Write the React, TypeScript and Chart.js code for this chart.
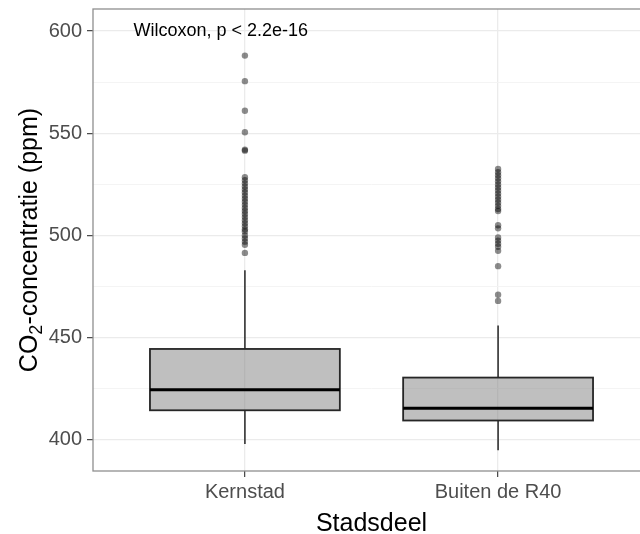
import { useEffect, useRef } from 'react';
import { Chart, registerables } from 'chart.js';

Chart.register(...registerables);

// CO2 concentration per district (boxplot summary, ppm)
const categories = ['Kernstad', 'Buiten de R40'];
const whiskerLow = [398, 395];
const q1 = [414.5, 409.5];
const median = [424.5, 415.5];
const q3 = [444.5, 430.5];
const whiskerHigh = [483, 456];

const outliersKernstad = [
  588, 575.5, 561, 550.5, 542, 541.5,
  528.5, 527, 525.5, 524, 522.5, 521, 519.5, 518, 516.5, 515, 513.5, 512,
  510.5, 509, 507.5, 506, 504.5, 503, 502,
  500, 498.5, 497, 495.5, 491.5,
];
const outliersBuiten = [
  532.5, 531, 529.5, 528, 526.5, 525, 523.5, 522, 520.5, 519, 517.5, 516,
  514.5, 513, 512,
  505, 503.5,
  499, 497.5, 496, 494.5, 492.5,
  485, 471, 468,
];

const yMajorTicks = [400, 450, 500, 550, 600];
const yMinorTicks = [425, 475, 525, 575];
const yMin = 384.8;
const yMax = 610.8;

const testLabel = 'Wilcoxon, p < 2.2e-16';
const testLabelX = 0.56;
const testLabelY = 600;
const xTitle = 'Stadsdeel';
const yTitleParts = ['CO', '2', '-concentratie (ppm)'];

const FONT = "'Liberation Sans', Arial, Helvetica, sans-serif";

const boxPlugin = {
  id: 'boxes',
  beforeDatasetsDraw(chart: any) {
    const { ctx, scales } = chart;
    const x = scales.x;
    const y = scales.y;
    categories.forEach((_, i) => {
      const cx = x.getPixelForValue(i + 1);
      const half = x.getPixelForValue(i + 1 + 0.375) - cx;
      const yq1 = y.getPixelForValue(q1[i]);
      const yq3 = y.getPixelForValue(q3[i]);
      const ymed = y.getPixelForValue(median[i]);
      const ylo = y.getPixelForValue(whiskerLow[i]);
      const yhi = y.getPixelForValue(whiskerHigh[i]);
      ctx.save();
      // whiskers
      ctx.strokeStyle = '#333333';
      ctx.lineWidth = 1.6;
      ctx.beginPath();
      ctx.moveTo(cx, yq3);
      ctx.lineTo(cx, yhi);
      ctx.moveTo(cx, yq1);
      ctx.lineTo(cx, ylo);
      ctx.stroke();
      // box
      ctx.fillStyle = 'rgba(128,128,128,0.5)';
      ctx.fillRect(cx - half, yq3, 2 * half, yq1 - yq3);
      ctx.strokeStyle = '#262626';
      ctx.lineWidth = 1.8;
      ctx.strokeRect(cx - half, yq3, 2 * half, yq1 - yq3);
      // median
      ctx.strokeStyle = '#000000';
      ctx.lineWidth = 3;
      ctx.beginPath();
      ctx.moveTo(cx - half, ymed);
      ctx.lineTo(cx + half, ymed);
      ctx.stroke();
      ctx.restore();
    });
  },
  afterDraw(chart: any) {
    const { ctx, chartArea, scales } = chart;
    const x = scales.x;
    const y = scales.y;
    ctx.save();
    // panel border
    ctx.strokeStyle = '#8f8f8f';
    ctx.lineWidth = 1.3;
    ctx.strokeRect(chartArea.left, chartArea.top, chartArea.right - chartArea.left, chartArea.bottom - chartArea.top);

    // test annotation
    ctx.fillStyle = '#000000';
    ctx.font = `18px ${FONT}`;
    ctx.textAlign = 'left';
    ctx.textBaseline = 'middle';
    ctx.fillText(testLabel, x.getPixelForValue(testLabelX), y.getPixelForValue(testLabelY));

    // x title
    ctx.font = `25px ${FONT}`;
    ctx.textAlign = 'center';
    ctx.textBaseline = 'alphabetic';
    ctx.fillText(xTitle, (chartArea.left + chartArea.right) / 2, 531);

    // y title with subscript
    const mainFont = `25px ${FONT}`;
    const subFont = `18px ${FONT}`;
    ctx.font = mainFont;
    const w0 = ctx.measureText(yTitleParts[0]).width;
    const w2 = ctx.measureText(yTitleParts[2]).width;
    ctx.font = subFont;
    const w1 = ctx.measureText(yTitleParts[1]).width;
    const total = w0 + w1 + w2;
    const cy = (chartArea.top + chartArea.bottom) / 2;
    ctx.translate(37, cy);
    ctx.rotate(-Math.PI / 2);
    ctx.textAlign = 'left';
    let pos = -total / 2;
    ctx.font = mainFont;
    ctx.fillText(yTitleParts[0], pos, 0);
    pos += w0;
    ctx.font = subFont;
    ctx.fillText(yTitleParts[1], pos, 5);
    pos += w1;
    ctx.font = mainFont;
    ctx.fillText(yTitleParts[2], pos, 0);
    ctx.restore();
  },
};

const zeroPadding = (s: any) => {
  s.paddingTop = 0;
  s.paddingBottom = 0;
  s.paddingLeft = 0;
  s.paddingRight = 0;
};

export default function App() {
  const canvasRef = useRef<HTMLCanvasElement | null>(null);

  useEffect(() => {
    const canvas = canvasRef.current;
    if (!canvas) return;
    const points = [
      ...outliersKernstad.map((v) => ({ x: 1, y: v })),
      ...outliersBuiten.map((v) => ({ x: 2, y: v })),
    ];
    const isMajor = (v: number) => yMajorTicks.includes(v);
    const chart = new Chart(canvas, {
      type: 'scatter',
      data: {
        datasets: [
          {
            data: points,
            pointRadius: 3.2,
            pointBackgroundColor: 'rgba(0,0,0,0.45)',
            pointBorderWidth: 0,
            pointHoverRadius: 3.2,
          },
        ],
      },
      options: {
        animation: false,
        responsive: false,
        devicePixelRatio: 1,
        layout: { padding: { top: 9, right: 10, left: 0, bottom: 0 } },
        plugins: { legend: { display: false }, tooltip: { enabled: false } },
        scales: {
          x: {
            type: 'linear',
            min: 0.4,
            max: 2.6,
            afterBuildTicks: (s: any) => {
              s.ticks = categories.map((_, i) => ({ value: i + 1 }));
            },
            afterFit: (s: any) => {
              s.height = 63;
              zeroPadding(s);
            },
            ticks: {
              callback: (v: any) => categories[Number(v) - 1] ?? '',
              color: '#4d4d4d',
              font: { family: FONT, size: 20 },
              padding: 3,
              maxRotation: 0,
              autoSkip: false,
            },
            grid: {
              color: '#ebebeb',
              lineWidth: 1.3,
              tickLength: 6,
              tickColor: '#444444',
              tickWidth: 1.2,
            },
            border: { display: false },
          },
          y: {
            type: 'linear',
            min: yMin,
            max: yMax,
            afterBuildTicks: (s: any) => {
              s.ticks = [...yMajorTicks, ...yMinorTicks].sort((a, b) => a - b).map((v) => ({ value: v }));
            },
            afterFit: (s: any) => {
              s.width = 93;
              zeroPadding(s);
            },
            ticks: {
              callback: (v: any) => (isMajor(Number(v)) ? String(v) : ''),
              color: '#4d4d4d',
              font: { family: FONT, size: 20 },
              padding: 5,
              autoSkip: false,
            },
            grid: {
              color: (c: any) => (isMajor(c.tick?.value) ? '#ebebeb' : '#f3f3f3'),
              lineWidth: (c: any) => (isMajor(c.tick?.value) ? 1.3 : 0.9),
              tickLength: 6,
              tickColor: (c: any) => (isMajor(c.tick?.value) ? '#444444' : 'rgba(0,0,0,0)'),
              tickWidth: 1.2,
            },
            border: { display: false },
          },
        },
      },
      plugins: [boxPlugin],
    } as any);
    return () => chart.destroy();
  }, []);

  return (
    <div
      style={{
        position: 'fixed',
        left: 0,
        top: 0,
        width: 640,
        height: 534,
        overflow: 'hidden',
        background: '#ffffff',
      }}
    >
      <canvas ref={canvasRef} width={660} height={534} style={{ display: 'block', width: 660, height: 534 }} />
    </div>
  );
}
